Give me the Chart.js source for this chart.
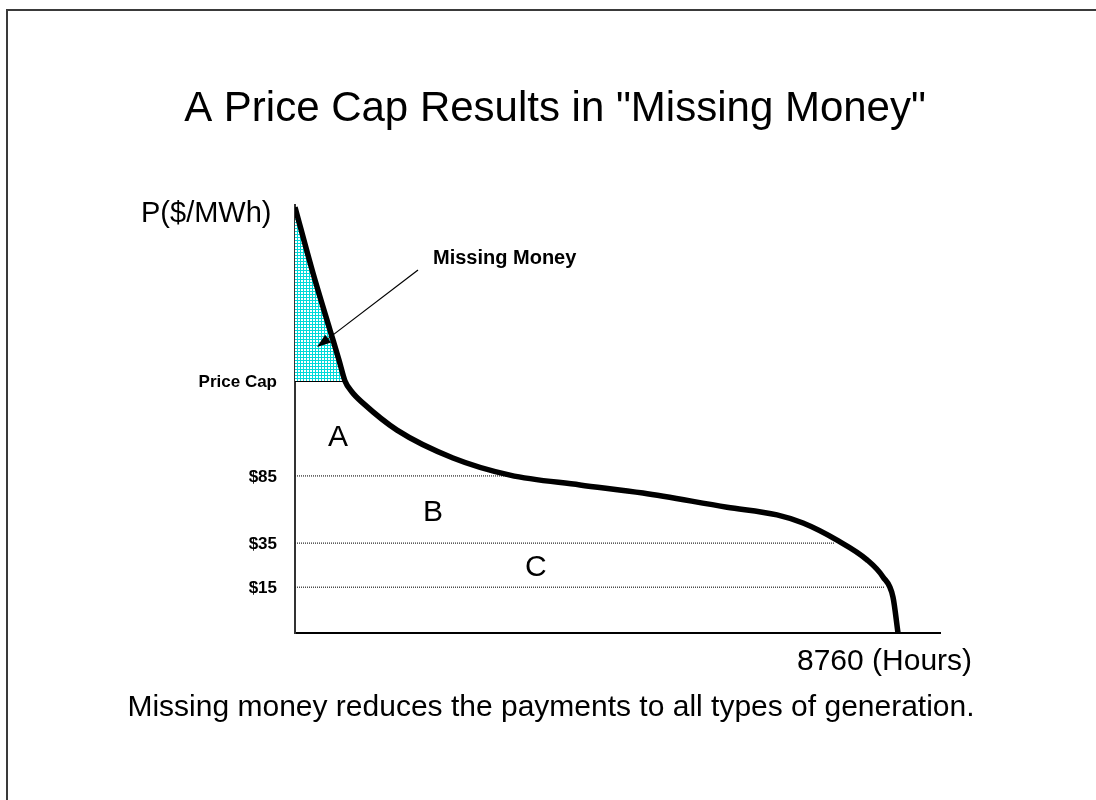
<!DOCTYPE html>
<html>
<head>
<meta charset="utf-8">
<script src="https://cdn.jsdelivr.net/npm/chart.js@4.4.0/dist/chart.umd.min.js"></script>
<style>
  html, body { margin: 0; padding: 0; background: #ffffff; }
  #wrap { width: 1096px; height: 800px; }
</style>
</head>
<body>
<div id="wrap"><canvas id="c" width="1096" height="800"></canvas></div>
<script>
// ---- data (hours on x, price-height units on y) ----
const curveHours  = [0, 261, 508, 639, 726, 828, 988, 1482, 2295, 3123, 4140, 5055, 6276, 7002, 7380, 7874, 8310, 8542, 8687, 8760];
const curvePrices = [99.5, 84.1, 70.8, 63.8, 58.9, 56.3, 53.7, 47.4, 40.9, 36.9, 34.6, 32.7, 29.4, 27.6, 25.7, 21.7, 17.1, 13.1, 8.4, 0];
const priceLabels = ['Price Cap', '$85', '$35', '$15'];
const priceLevels = [58.9, 36.7, 21.0, 10.7];
const levelEnds   = [726, 3123, 7845, 8571];
const regionLabels = ['A', 'B', 'C'];
const regionX      = [479, 1859, 3341];
const regionY      = [43.7, 26.2, 13.3];
const xAxisLabel = '8760 (Hours)';
const yAxisLabel = 'P($/MWh)';
const titleText = 'A Price Cap Results in "Missing Money"';
const footText = 'Missing money reduces the payments to all types of generation.';
const calloutText = 'Missing Money';
const calloutFrom = [1787, 84.8];
const calloutTo   = [320, 66.8];
const calloutLabelAt = [2005, 86.2];

const FONT = '"Liberation Sans", Arial, Helvetica, sans-serif';

// hatch pattern
function makePattern() {
  const t = document.createElement('canvas');
  t.width = 3; t.height = 3;
  const g = t.getContext('2d');
  g.fillStyle = '#00dada';
  g.fillRect(0, 0, 3, 3);
  g.fillStyle = '#ffffff';
  g.fillRect(1, 1, 2, 2);
  return g.createPattern(t, 'repeat');
}
const hatch = makePattern();

const curveData = curveHours.map((h, i) => ({ x: h, y: curvePrices[i] }));

const datasets = [
  {
    label: 'curve',
    data: curveData,
    borderColor: '#000000',
    borderWidth: 5.5,
    pointRadius: 0,
    cubicInterpolationMode: 'monotone',
    fill: { target: { value: priceLevels[0] }, above: hatch, below: 'rgba(0,0,0,0)' },
    order: 0
  },
  {
    label: 'cap',
    data: [{ x: 0, y: priceLevels[0] }, { x: levelEnds[0], y: priceLevels[0] }],
    borderColor: '#000000',
    borderWidth: 2,
    pointRadius: 0,
    fill: false,
    order: 1
  }
];
for (let i = 1; i < priceLevels.length; i++) {
  datasets.push({
    label: priceLabels[i],
    data: [{ x: 0, y: priceLevels[i] }, { x: levelEnds[i], y: priceLevels[i] }],
    borderColor: '#222222',
    borderWidth: 1.2,
    borderDash: [1, 1],
    pointRadius: 0,
    fill: false,
    order: 2
  });
}

const decor = {
  id: 'decor',
  beforeDraw(chart) {
    const ctx = chart.ctx;
    ctx.save();
    ctx.fillStyle = '#ffffff';
    ctx.fillRect(0, 0, chart.width, chart.height);
    // slide border
    ctx.strokeStyle = '#3a3a3a';
    ctx.lineWidth = 2;
    ctx.beginPath();
    ctx.moveTo(7, chart.height);
    ctx.lineTo(7, 10);
    ctx.lineTo(chart.width, 10);
    ctx.stroke();
    ctx.restore();
  },
  afterDraw(chart) {
    const ctx = chart.ctx;
    const xs = chart.scales.x, ys = chart.scales.y;
    const area = chart.chartArea;
    ctx.save();
    ctx.fillStyle = '#000000';
    ctx.textBaseline = 'alphabetic';

    // title
    ctx.font = '42px ' + FONT;
    ctx.textAlign = 'center';
    ctx.fillText(titleText, 555, 121);

    // y axis label
    ctx.font = '29px ' + FONT;
    ctx.textAlign = 'left';
    ctx.fillText(yAxisLabel, 141, 222);

    // x axis label
    ctx.font = '30px ' + FONT;
    ctx.fillText(xAxisLabel, 797, 670);

    // footer
    ctx.textAlign = 'center';
    ctx.fillText(footText, 551, 716);

    // price labels
    ctx.font = 'bold 17px ' + FONT;
    ctx.textAlign = 'right';
    ctx.textBaseline = 'middle';
    priceLabels.forEach((lab, i) => {
      ctx.fillText(lab, area.left - 18, ys.getPixelForValue(priceLevels[i]) + 1);
    });

    // region labels
    ctx.font = '30px ' + FONT;
    ctx.textAlign = 'left';
    ctx.textBaseline = 'alphabetic';
    regionLabels.forEach((lab, i) => {
      ctx.fillText(lab, xs.getPixelForValue(regionX[i]), ys.getPixelForValue(regionY[i]));
    });

    // callout
    ctx.font = 'bold 20px ' + FONT;
    ctx.fillText(calloutText, xs.getPixelForValue(calloutLabelAt[0]), ys.getPixelForValue(calloutLabelAt[1]));
    const x1 = xs.getPixelForValue(calloutFrom[0]), y1 = ys.getPixelForValue(calloutFrom[1]);
    const x2 = xs.getPixelForValue(calloutTo[0]), y2 = ys.getPixelForValue(calloutTo[1]);
    const ang = Math.atan2(y2 - y1, x2 - x1);
    const L = 14, W = 5;
    const bx = x2 - L * Math.cos(ang), by = y2 - L * Math.sin(ang);
    ctx.strokeStyle = '#000000';
    ctx.lineWidth = 1.2;
    ctx.beginPath();
    ctx.moveTo(x1, y1);
    ctx.lineTo(bx, by);
    ctx.stroke();
    ctx.beginPath();
    ctx.moveTo(x2, y2);
    ctx.lineTo(bx + W * Math.sin(ang), by - W * Math.cos(ang));
    ctx.lineTo(bx - W * Math.sin(ang), by + W * Math.cos(ang));
    ctx.closePath();
    ctx.fill();
    ctx.restore();
  }
};

new Chart(document.getElementById('c'), {
  type: 'line',
  data: { datasets },
  options: {
    responsive: false,
    animation: false,
    devicePixelRatio: 1,
    layout: { padding: { left: 295, right: 156, top: 205, bottom: 167 } },
    plugins: { legend: { display: false }, tooltip: { enabled: false }, title: { display: false } },
    scales: {
      x: {
        type: 'linear', min: 0, max: 9370,
        grid: { display: false, drawTicks: false, tickLength: 0 },
        ticks: { display: false },
        border: { display: true, color: '#000000', width: 2 }
      },
      y: {
        type: 'linear', min: 0, max: 100,
        grid: { display: false, drawTicks: false, tickLength: 0 },
        ticks: { display: false },
        border: { display: true, color: '#333333', width: 2 }
      }
    }
  },
  plugins: [decor]
});
</script>
</body>
</html>
